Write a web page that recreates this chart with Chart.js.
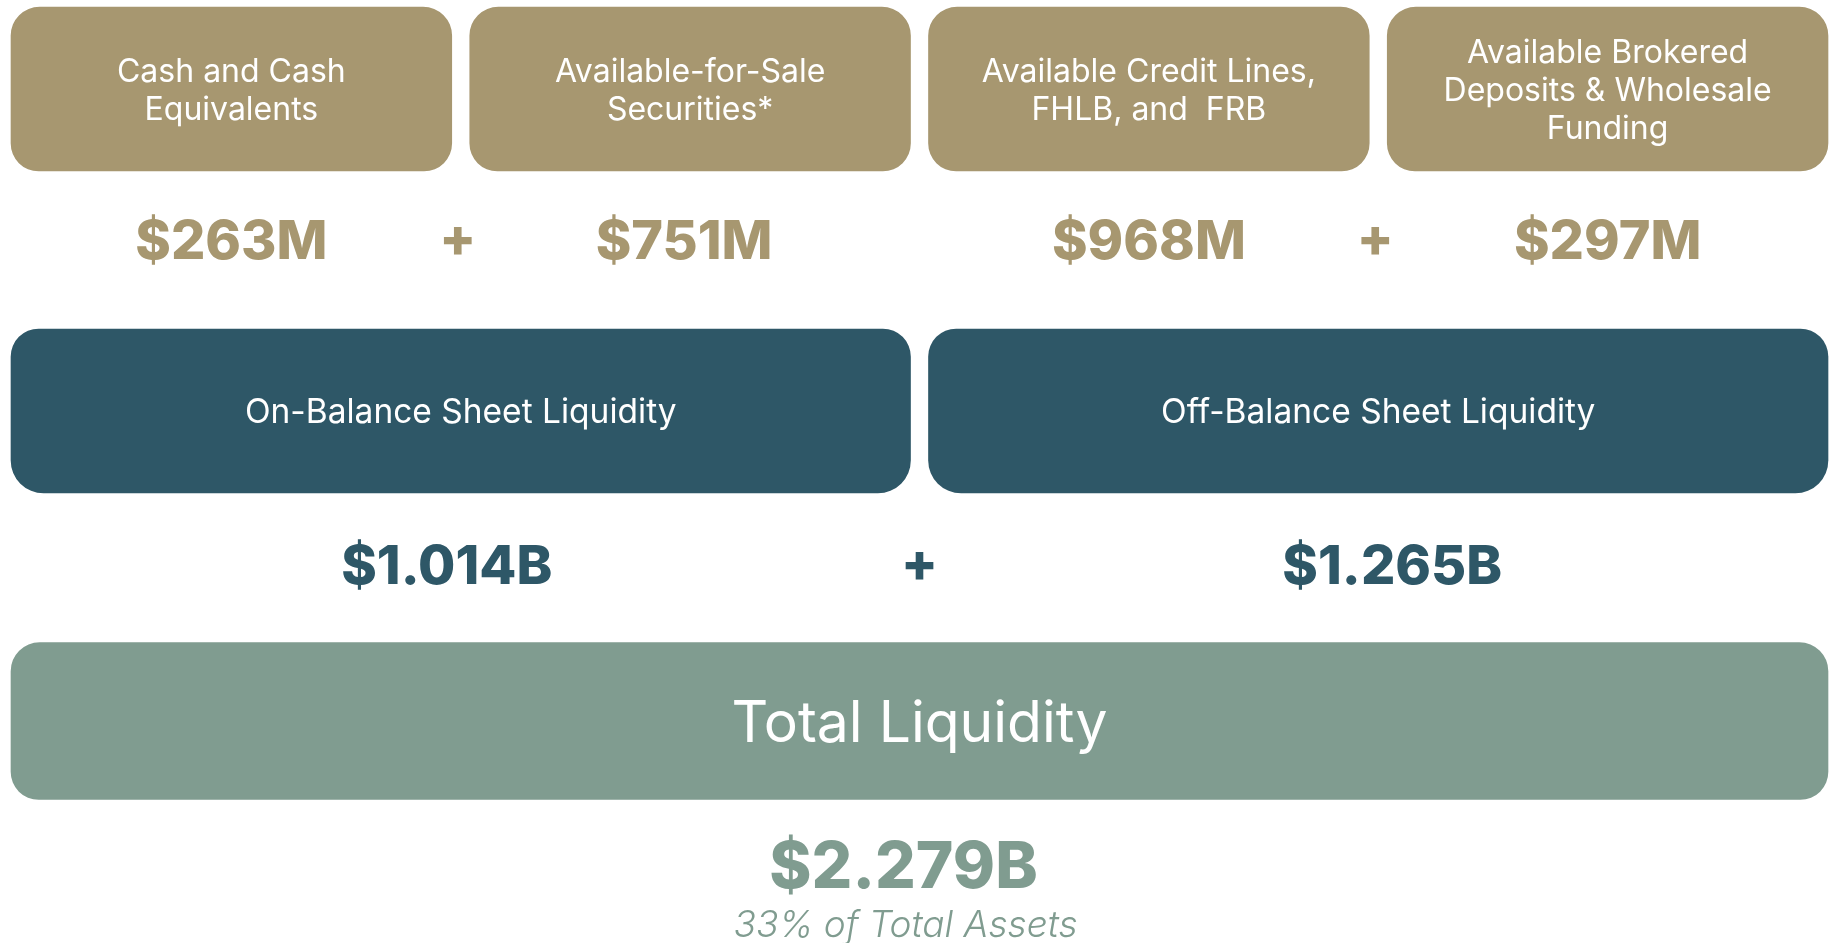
<!DOCTYPE html>
<html>
<head>
<meta charset="utf-8">
<script src="https://cdn.jsdelivr.net/npm/chart.js@4/dist/chart.umd.min.js"></script>
<style>
  html, body { margin: 0; padding: 0; background: #ffffff; }
  #wrap { width: 1839px; height: 943px; position: relative; }
</style>
</head>
<body>
<div id="wrap"><canvas id="liquidity"></canvas></div>
<script>
// ---- data ----
const tiers = ['Components', 'Balance Sheet', 'Total'];
const componentLabels = [
  ['Cash and Cash', 'Equivalents'],
  ['Available-for-Sale', 'Securities*'],
  ['Available Credit Lines,', 'FHLB, and  FRB'],
  ['Available Brokered', 'Deposits & Wholesale', 'Funding']
];
const componentValues = [263, 751, 968, 297];      // $M
const subtotalLabels = ['On-Balance Sheet Liquidity', 'Off-Balance Sheet Liquidity'];
const subtotalValues = [1.014, 1.265];             // $B
const totalLabel = 'Total Liquidity';
const totalValue = 2.279;                          // $B
const totalPctOfAssets = 33;

// ---- look ----
const COLORS = { gold: '#A79770', teal: '#2E5767', sage: '#809C90' };
const GAP = 9;              // half of the white gap between boxes
const FONT = 'Inter, "Open Sans", sans-serif';
const CAP = 0.727;          // cap height ratio of Inter

const fmtM = v => '$' + v + 'M';
const fmtB = v => '$' + v.toFixed(3) + 'B';

// each box spans whole columns of the component grid
const componentBoxes = componentValues.map((v, i) => ({ y: tiers[0], x: [i, i + 1] }));
const subtotalBoxes = subtotalValues.map((v, i) => ({ y: tiers[1], x: [2 * i, 2 * i + 2] }));
const totalBoxes = [{ y: tiers[2], x: [0, componentValues.length] }];

// nudge = how far the visible box sits below its tier line
function boxDataset(data, color, thickness, nudge, extra) {
  return Object.assign({
    data: data,
    backgroundColor: color,
    borderColor: '#ffffff',
    borderWidth: { top: GAP + nudge, bottom: GAP - nudge, left: GAP, right: GAP },
    borderRadius: 28 + GAP + Math.abs(nudge),
    borderSkipped: false,
    barThickness: thickness,
    grouped: false,
    clip: false,
    nudge: nudge
  }, extra);
}

const datasets = [
  boxDataset(componentBoxes, COLORS.gold, 164 + 2 * GAP, -1, {
    boxLabels: componentLabels, labelSize: 32, lineHeight: 38,
    valueText: componentValues.map(fmtM), valueSize: 54, valueColor: COLORS.gold,
    valueDrop: 88, valueShift: [0, -6, 0, 0]
  }),
  boxDataset(subtotalBoxes, COLORS.teal, 164 + 2 * GAP, 5, {
    boxLabels: subtotalLabels, labelSize: 33.5, lineHeight: 38,
    valueText: subtotalValues.map(fmtB), valueSize: 54, valueColor: COLORS.teal,
    valueDrop: 91, valueShift: [-14, 14]
  }),
  boxDataset(totalBoxes, COLORS.sage, 157 + 2 * GAP, -1, {
    boxLabels: [totalLabel], labelSize: 57, lineHeight: 60,
    valueText: [fmtB(totalValue)], valueSize: 64, valueColor: COLORS.sage,
    valueDrop: 88, valueShift: [-16]
  })
];

// text on and under the boxes, plus the "+" signs between them
const boxText = {
  id: 'boxText',
  afterDatasetsDraw(chart) {
    const ctx = chart.ctx;
    const xs = chart.scales.x;
    ctx.save();
    ctx.textAlign = 'center';
    ctx.textBaseline = 'alphabetic';

    chart.data.datasets.forEach((ds, di) => {
      const meta = chart.getDatasetMeta(di);
      let valueBase = 0;
      meta.data.forEach((bar, j) => {
        const { x, base, y, height } = bar.getProps(['x', 'base', 'y', 'height'], true);
        const cx = (x + base) / 2;
        const cy = y + ds.nudge;
        const bottom = y + height / 2 - GAP + ds.nudge;

        // label inside the box
        const lines = [].concat(ds.boxLabels[j]);
        ctx.fillStyle = '#ffffff';
        ctx.font = '400 ' + ds.labelSize + 'px ' + FONT;
        lines.forEach((line, k) => {
          const ly = cy + (k - (lines.length - 1) / 2) * ds.lineHeight + ds.labelSize * CAP / 2;
          ctx.fillText(line, cx, ly);
        });

        // value under the box
        valueBase = bottom + ds.valueDrop;
        ctx.fillStyle = ds.valueColor;
        ctx.font = '800 ' + ds.valueSize + 'px ' + FONT;
        ctx.fillText(ds.valueText[j], cx + ds.valueShift[j], valueBase);
      });

      // "+" signs between boxes that add up
      ctx.fillStyle = ds.valueColor;
      ctx.font = '800 ' + ds.valueSize + 'px ' + FONT;
      if (di === 0) {
        subtotalValues.forEach((v, i) => {
          ctx.fillText('+', xs.getPixelForValue(2 * i + 1) - 3, valueBase - 2);
        });
      } else if (di === 1) {
        ctx.fillText('+', xs.getPixelForValue(2), valueBase - 2);
      } else if (di === 2) {
        const cx = (xs.left + xs.right) / 2 - 14;
        ctx.font = 'italic 300 37px ' + FONT;
        ctx.fillText(totalPctOfAssets + '% of Total Assets', cx, valueBase + 49);
      }
    });
    ctx.restore();
  }
};

new Chart(document.getElementById('liquidity'), {
  type: 'bar',
  data: { labels: tiers, datasets: datasets },
  options: {
    indexAxis: 'y',
    responsive: true,
    maintainAspectRatio: false,
    animation: false,
    layout: { padding: { left: 2, right: 2, top: 90, bottom: 221 } },
    scales: {
      x: { type: 'linear', min: 0, max: componentValues.length, display: false },
      y: { type: 'category', offset: false, display: false }
    },
    plugins: {
      legend: { display: false },
      tooltip: { enabled: false }
    }
  },
  plugins: [boxText]
});
</script>
</body>
</html>
